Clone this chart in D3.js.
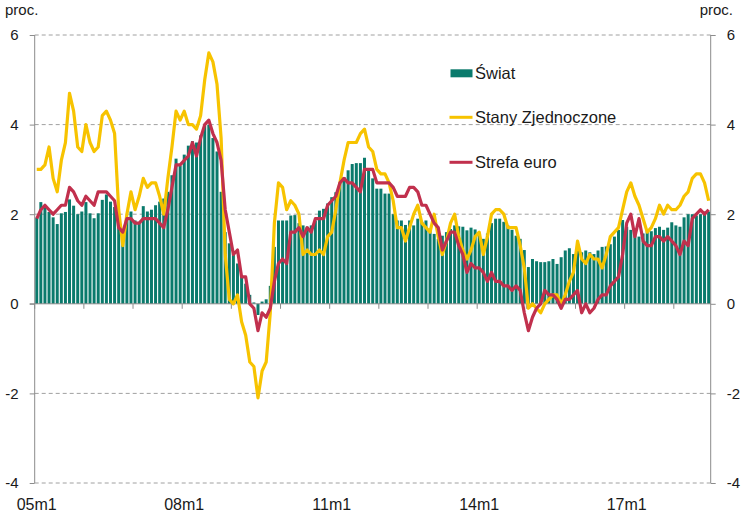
<!DOCTYPE html>
<html>
<head>
<meta charset="utf-8">
<script src="https://cdn.jsdelivr.net/npm/d3@7/dist/d3.min.js"></script>
<style>
  body { margin: 0; background: #fff; }
  svg { display: block; font-family: "Liberation Sans", Arial, sans-serif; }
</style>
</head>
<body>
<svg id="chart" width="751" height="516"></svg>
<script>
// ---- data: monthly, 2005m1 .. 2018m9 ----
const startYear = 2005;
const nMonths = 165;
const categories = d3.range(nMonths).map(i => String((startYear + Math.floor(i / 12)) % 100).padStart(2, "0") + "m" + (i % 12 + 1));

const xTickLabels = ["05m1", "08m1", "11m1", "14m1", "17m1"];
const yTicks = [-4, -2, 0, 2, 4, 6];

const swiat = [
  1.92, 2.27, 2.18, 2.05, 1.93, 1.78, 2.02, 2.05, 2.33, 2.19, 2.00, 2.06,
  2.27, 2.02, 1.91, 2.02, 2.32, 2.44, 2.28, 2.16, 1.93, 1.62, 1.90, 2.06,
  1.86, 1.80, 2.18, 2.06, 2.10, 2.20, 2.28, 2.35, 2.50, 2.87, 3.24, 3.08,
  3.33, 3.53, 3.63, 3.60, 3.76, 3.98, 4.00, 3.70, 3.40, 2.50, 1.60, 1.35,
  1.12, 0.90, 0.60, 0.45, 0.20, 0.03, -0.25, 0.05, 0.10, 0.40, 1.27, 1.86,
  1.86, 1.86, 1.97, 1.98, 1.80, 1.75, 1.72, 1.75, 1.86, 2.08, 2.12, 2.24,
  2.38, 2.49, 2.70, 2.83, 2.98, 3.12, 3.14, 3.14, 3.26, 3.00, 2.80, 2.57,
  2.57, 2.46, 2.46, 2.00, 1.86, 1.86, 1.76, 1.86, 1.75, 1.90, 1.83, 1.86,
  1.68, 1.56, 1.45, 1.52, 1.60, 1.67, 1.75, 1.73, 1.72, 1.64, 1.70, 1.66,
  1.58, 1.45, 1.57, 1.80, 1.90, 1.90, 1.83, 1.75, 1.65, 1.52, 1.45, 1.20,
  0.82, 1.00, 0.95, 0.93, 0.93, 0.95, 1.00, 0.89, 1.04, 1.19, 1.24, 1.11,
  1.20, 1.15, 1.19, 1.15, 1.11, 1.19, 1.27, 1.28, 1.33, 1.50, 1.65, 1.87,
  1.72, 1.65, 1.57, 1.50, 1.57, 1.65, 1.62, 1.69, 1.72, 1.65, 1.70, 1.82,
  1.75, 1.72, 1.93, 2.00, 2.00, 1.97, 2.00, 2.06, 2.06
];

const stanyZjednoczone = [
  3.0, 3.0, 3.1, 3.5, 2.8, 2.5, 3.2, 3.6, 4.7, 4.3, 3.5, 3.4,
  4.0, 3.6, 3.4, 3.5, 4.2, 4.3, 4.1, 3.8, 2.1, 1.3, 2.0, 2.5,
  2.1, 2.4, 2.8, 2.6, 2.7, 2.7, 2.4, 2.0, 2.8, 3.5, 4.3, 4.1,
  4.3, 4.0, 4.0, 3.9, 4.2, 5.0, 5.6, 5.4, 4.9, 3.7, 1.1, 0.1,
  0.0, 0.2, -0.4, -0.7, -1.3, -1.4, -2.1, -1.5, -1.3, -0.2, 1.8, 2.7,
  2.6, 2.1, 2.3, 2.2, 2.0, 1.1, 1.2, 1.1, 1.1, 1.2, 1.1, 1.5,
  1.6, 2.1, 2.7, 3.2, 3.6, 3.6, 3.6, 3.8, 3.9, 3.5, 3.4, 3.0,
  2.9, 2.9, 2.7, 2.3, 1.7, 1.7, 1.4, 1.7, 2.0, 2.2, 1.8, 1.7,
  1.6, 2.0, 1.5, 1.1, 1.4, 1.8, 2.0, 1.5, 1.2, 1.0, 1.2, 1.5,
  1.6, 1.1, 1.5, 2.0, 2.1, 2.1, 2.0, 1.7, 1.7, 1.7, 1.3, 0.8,
  -0.1, 0.0, -0.1, -0.2, 0.0, 0.1, 0.2, 0.2, 0.0, 0.2, 0.5, 0.7,
  1.4, 1.0, 0.9, 1.1, 1.0, 1.0, 0.8, 1.1, 1.5, 1.6, 1.7, 2.1,
  2.5, 2.7, 2.4, 2.2, 1.9, 1.6, 1.7, 1.9, 2.2, 2.0, 2.2, 2.1,
  2.1, 2.2, 2.4, 2.5, 2.8, 2.9, 2.9, 2.7, 2.3
];

const strefaEuro = [
  1.9, 2.1, 2.2, 2.1, 2.0, 2.1, 2.2, 2.2, 2.6, 2.5, 2.3, 2.2,
  2.4, 2.3, 2.2, 2.5, 2.5, 2.5, 2.4, 2.3, 1.7, 1.6, 1.9, 1.9,
  1.8, 1.8, 1.9, 1.9, 1.9, 1.9, 1.8, 1.7, 2.1, 2.6, 3.1, 3.1,
  3.2, 3.3, 3.6, 3.3, 3.7, 4.0, 4.1, 3.8, 3.6, 3.2, 2.1, 1.6,
  1.1, 1.2, 0.6, 0.6, 0.0, -0.1, -0.6, -0.2, -0.3, -0.1, 0.5, 0.9,
  1.0, 0.9, 1.6, 1.6, 1.7, 1.5, 1.7, 1.6, 1.9, 1.9, 1.9, 2.2,
  2.3, 2.4, 2.7, 2.8, 2.7, 2.7, 2.6, 2.5, 3.0, 3.0, 3.0, 2.7,
  2.7, 2.7, 2.7, 2.6, 2.4, 2.4, 2.4, 2.6, 2.6, 2.5, 2.2, 2.2,
  2.0, 1.8, 1.7, 1.2, 1.4, 1.6, 1.6, 1.3, 1.1, 0.7, 0.9, 0.8,
  0.8, 0.7, 0.5, 0.7, 0.5, 0.5, 0.4, 0.4, 0.3, 0.4, 0.3, -0.2,
  -0.6, -0.3, -0.1, 0.0, 0.3, 0.2, 0.2, 0.1, -0.1, 0.1, 0.1, 0.2,
  0.3, -0.2, 0.0, -0.2, -0.1, 0.1, 0.2, 0.2, 0.4, 0.5, 0.6, 1.1,
  1.8, 2.0, 1.5, 1.9, 1.4, 1.3, 1.3, 1.5, 1.5, 1.4, 1.5, 1.4,
  1.3, 1.1, 1.4, 1.3, 1.9, 2.0, 2.1, 2.0, 2.1
];

const seriesNames = ["Świat", "Stany Zjednoczone", "Strefa euro"];
const colors = { bar: "#0a7a6c", us: "#f7c300", ez: "#c1304d", axis: "#8c8c8c", grid: "#a0a0a0", text: "#1a1a1a" };

// ---- layout ----
const svg = d3.select("#chart");
const plotLeft = 34.7, plotRight = 710.7, plotTop = 35, plotBottom = 483;

const x = d3.scaleBand().domain(d3.range(nMonths)).range([plotLeft, plotRight]).paddingInner(0.27).paddingOuter(0.135);
const y = d3.scaleLinear().domain([-4, 6]).range([plotBottom, plotTop]);
const cx = i => x(i) + x.bandwidth() / 2;

// gridlines (dashed)
svg.append("g").selectAll("line").data(yTicks.filter(d => d !== 0)).join("line")
  .attr("x1", plotLeft).attr("x2", plotRight)
  .attr("y1", d => y(d)).attr("y2", d => y(d))
  .attr("stroke", colors.grid).attr("stroke-width", 1).attr("stroke-dasharray", "4,3");

// bars
svg.append("g").selectAll("rect").data(swiat).join("rect")
  .attr("x", (d, i) => x(i))
  .attr("width", x.bandwidth())
  .attr("y", d => y(Math.max(0, d)))
  .attr("height", d => Math.abs(y(d) - y(0)))
  .attr("fill", colors.bar);

// zero line and x ticks
svg.append("line").attr("x1", plotLeft - 5).attr("x2", plotRight).attr("y1", y(0)).attr("y2", y(0))
  .attr("stroke", colors.axis).attr("stroke-width", 1);
const yearStarts = d3.range(0, nMonths, 12);
svg.append("g").selectAll("line").data(yearStarts).join("line")
  .attr("x1", i => x(i) - x.step() * x.paddingInner() / 2)
  .attr("x2", i => x(i) - x.step() * x.paddingInner() / 2)
  .attr("y1", y(0)).attr("y2", y(0) + 5)
  .attr("stroke", colors.axis).attr("stroke-width", 1);

// lines
const line = d3.line().x((d, i) => cx(i)).y(d => y(d));
svg.append("path").datum(stanyZjednoczone).attr("d", line)
  .attr("fill", "none").attr("stroke", colors.us).attr("stroke-width", 3.2).attr("stroke-linejoin", "round");
svg.append("path").datum(strefaEuro).attr("d", line)
  .attr("fill", "none").attr("stroke", colors.ez).attr("stroke-width", 3.2).attr("stroke-linejoin", "round");

// y axes
const fmt = d => String(d);
const leftAxis = d3.axisLeft(y).tickValues(yTicks).tickSize(5).tickPadding(11).tickFormat(fmt);
const gl = svg.append("g").attr("transform", `translate(${plotLeft},0)`).call(leftAxis);
const rightAxis = d3.axisRight(y).tickValues(yTicks).tickSize(5).tickPadding(11).tickFormat(fmt);
const gr = svg.append("g").attr("transform", `translate(${plotRight},0)`).call(rightAxis);
[gl, gr].forEach(g => {
  g.select(".domain").attr("stroke", colors.axis).attr("d", `M0,${plotTop}V${plotBottom}`);
  g.selectAll(".tick line").attr("stroke", colors.axis);
  g.selectAll(".tick text").attr("fill", colors.text).style("font-size", "15px").style("font-family", "Liberation Sans, Arial, sans-serif");
});

// x labels
const xLabelIdx = xTickLabels.map(l => categories.indexOf(l));
svg.append("g").selectAll("text").data(xLabelIdx).join("text")
  .attr("x", i => cx(i)).attr("y", 510)
  .attr("text-anchor", "middle").attr("fill", colors.text)
  .style("font-size", "16px")
  .text(i => categories[i]);

// unit labels
svg.append("text").attr("x", 5).attr("y", 15).attr("fill", colors.text).style("font-size", "15px").text("proc.");
svg.append("text").attr("x", 733).attr("y", 15).attr("text-anchor", "end").attr("fill", colors.text).style("font-size", "15px").text("proc.");

// legend
const lg = svg.append("g");
lg.append("rect").attr("x", 450.5).attr("y", 69.3).attr("width", 22).attr("height", 8).attr("fill", colors.bar);
lg.append("line").attr("x1", 449.5).attr("x2", 472.5).attr("y1", 117.3).attr("y2", 117.3).attr("stroke", colors.us).attr("stroke-width", 3);
lg.append("line").attr("x1", 449.5).attr("x2", 472.5).attr("y1", 162.3).attr("y2", 162.3).attr("stroke", colors.ez).attr("stroke-width", 3);
lg.selectAll("text.lab").data(seriesNames).join("text").attr("class", "lab")
  .attr("x", 475).attr("y", (d, i) => [78.5, 123.3, 168.3][i])
  .attr("fill", colors.text).style("font-size", "16.5px").text(d => d);
</script>
</body>
</html>
